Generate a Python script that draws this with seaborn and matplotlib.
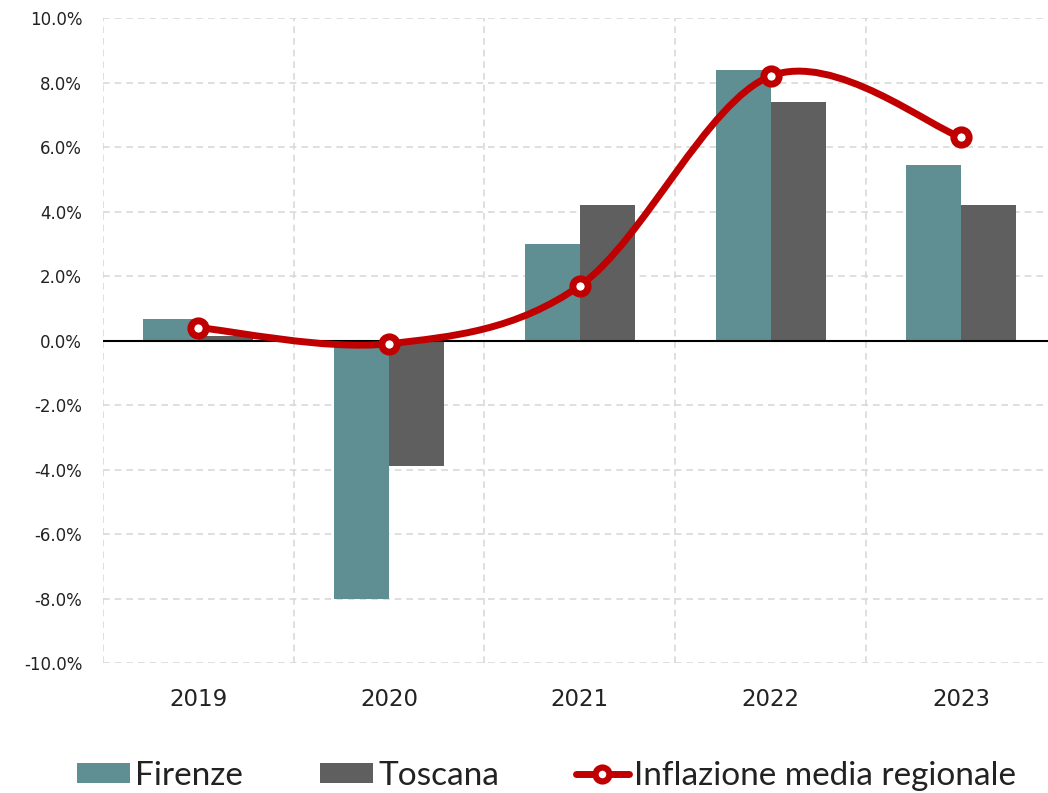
import numpy as np
import pandas as pd
import matplotlib
matplotlib.use('Agg')
import matplotlib.pyplot as plt
from matplotlib.path import Path
from matplotlib.patches import PathPatch
from matplotlib.lines import Line2D
from matplotlib.ticker import FuncFormatter
import seaborn as sns

years = ['2019', '2020', '2021', '2022', '2023']
firenze = [0.68, -8.0, 3.0, 8.4, 5.45]
toscana = [0.15, -3.88, 4.2, 7.4, 4.2]
inflazione = [0.4, -0.1, 1.7, 8.2, 6.3]

col_firenze = '#5F8F93'
col_toscana = '#5F5F5F'
col_line = '#C00000'

sns.set_theme(style='white')
plt.rcParams['font.family'] = ['DejaVu Sans']

df = pd.DataFrame({
    'anno': years * 2,
    'valore': firenze + toscana,
    'serie': ['Firenze'] * len(years) + ['Toscana'] * len(years),
})

fig = plt.figure(figsize=(10.48, 7.93), dpi=100)
ax = fig.add_axes([0.0983, 0.1639, 0.910, 0.8134])

sns.barplot(data=df, x='anno', y='valore', hue='serie', ax=ax,
            palette=[col_firenze, col_toscana], width=0.576, gap=0,
            linewidth=0, saturation=1)

# smoothed line (Catmull-Rom style bezier, like Excel's smoothed line)
xs = np.arange(len(years), dtype=float)
ys = np.array(inflazione)
verts = [(xs[0], ys[0])]
codes = [Path.MOVETO]
for i in range(len(xs) - 1):
    i0 = max(i - 1, 0)
    i3 = min(i + 2, len(xs) - 1)
    c1 = (xs[i] + (xs[i + 1] - xs[i0]) / 6, ys[i] + (ys[i + 1] - ys[i0]) / 6)
    c2 = (xs[i + 1] - (xs[i3] - xs[i]) / 6, ys[i + 1] - (ys[i3] - ys[i]) / 6)
    verts += [c1, c2, (xs[i + 1], ys[i + 1])]
    codes += [Path.CURVE4] * 3
ax.add_patch(PathPatch(Path(verts, codes), facecolor='none', edgecolor=col_line,
                       lw=5, capstyle='round', zorder=4))
ax.plot(xs, ys, linestyle='none', marker='o', markersize=11,
        markerfacecolor='white', markeredgecolor=col_line, markeredgewidth=5,
        zorder=5)

ax.set_ylim(-10, 10)
ax.set_xlim(-0.5, len(years) - 0.5)
ax.set_yticks(np.arange(-10, 10.1, 2))
ax.yaxis.set_major_formatter(FuncFormatter(lambda v, p: f'{v:.1f}%'))
ax.set_xticks(np.arange(-0.5, len(years)), minor=True)
ax.axhline(0, color='black', lw=1.5, zorder=3)

ax.grid(axis='y', which='major', color='#D9D9D9', linestyle=(0, (4, 3)), lw=1.2)
ax.grid(axis='x', which='minor', color='#D9D9D9', linestyle=(0, (4, 3)), lw=1.2)
ax.grid(axis='x', which='major', visible=False)
ax.set_axisbelow(True)
for s in ax.spines.values():
    s.set_visible(False)

ax.tick_params(axis='y', length=0, pad=15, labelsize=12, colors='#222222')
ax.tick_params(axis='x', which='major', length=0, pad=18, labelsize=16.5, colors='#222222')
ax.tick_params(axis='x', which='minor', length=0)
ax.set_xlabel('')
ax.set_ylabel('')

handles, labels = ax.get_legend_handles_labels()
ax.get_legend().remove()
handles.append(Line2D([], [], color=col_line, lw=5, marker='o', markersize=10,
                      markerfacecolor='white', markeredgecolor=col_line,
                      markeredgewidth=4.5))
labels.append('Inflazione media regionale')
fig.legend(handles, labels, loc='center', bbox_to_anchor=(0.5215, 0.022),
           ncol=3, frameon=False, handlelength=1.6,
           handleheight=0.55, handletextpad=0.15, columnspacing=2.3,
           labelcolor='#222222', prop={'family': ['Lato', 'DejaVu Sans'], 'size': 24})

fig.savefig('out.png', dpi=100)
